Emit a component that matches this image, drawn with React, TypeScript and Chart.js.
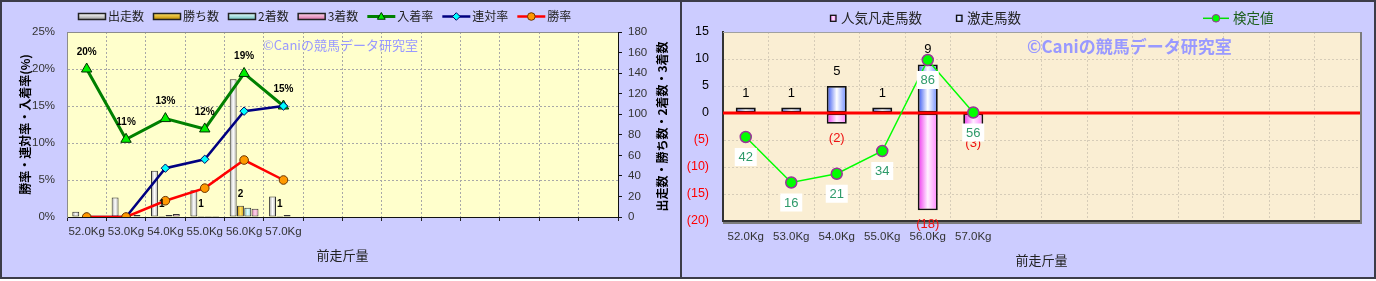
import React, { useEffect, useRef } from "react";
import { Chart, registerables } from "chart.js";

Chart.register(...registerables);

// ---------- data ----------
const categories = ["52.0Kg", "53.0Kg", "54.0Kg", "55.0Kg", "56.0Kg", "57.0Kg", "", "", "", "", "", "", "", ""];

// left chart (counts on right axis, rates on left axis)
const runs = [5, 19, 45, 26, 134, 20];
const wins = [0, 0, 1, 1, 11, 1];
const seconds = [0, 0, 2, 1, 9, 2];
const thirds = [1, 2, 3, 1, 8, 0];
const winLabels = ["", "", "1", "1", "2", "1"];
const placeRate = [20, 10.5, 13.3, 11.9, 19.4, 15];
const quinellaRate = [0, 0, 6.6, 7.8, 14.3, 15];
const winRate = [0, 0, 2.2, 3.9, 7.7, 5];

// right chart
const surgeCounts = [1, 1, 5, 1, 9, 0]; // 激走馬数
const flopCounts = [0, 0, -2, 0, -18, -3]; // 人気凡走馬数
const testValues = [42, 16, 21, 34, 86, 56]; // 検定値

const WATERMARK = "©Caniの競馬データ研究室";

// ---------- styles ----------
const FONT_LAT = '"Liberation Sans", "Noto Sans CJK JP", sans-serif';
const FONT_JP = '"Noto Sans CJK JP", "Liberation Sans", sans-serif';

type Stops = string[];

function hGrad(chart: any, x0: number, x1: number, stops: Stops) {
  const g = chart.ctx.createLinearGradient(x0, 0, x1, 0);
  g.addColorStop(0, stops[0]);
  g.addColorStop(0.5, stops[1]);
  g.addColorStop(1, stops[2]);
  return g;
}

function barFill(stops: Stops, slotIndex: number, slotCount: number, catPct: number, barPct: number) {
  return (c: any) => {
    const chart = c.chart;
    const xs = chart.scales && chart.scales.x;
    if (!xs || c.type !== "data" || !(xs.width > 0)) return stops[1];
    const cw = xs.width / categories.length;
    const center = xs.getPixelForValue(c.dataIndex);
    const group = cw * catPct;
    const slot = group / slotCount;
    const bw = slot * barPct;
    const bc = center - group / 2 + slot * (slotIndex + 0.5);
    return hGrad(chart, bc - bw / 2, bc + bw / 2, stops);
  };
}

function drawMarker(ctx: CanvasRenderingContext2D, shape: string, x: number, y: number, r: number, fill: string, stroke: string, lw: number) {
  ctx.beginPath();
  if (shape === "triangle") {
    ctx.moveTo(x, y - r);
    ctx.lineTo(x + r * 0.866, y + r / 2);
    ctx.lineTo(x - r * 0.866, y + r / 2);
    ctx.closePath();
  } else if (shape === "diamond") {
    ctx.moveTo(x, y - r);
    ctx.lineTo(x + r, y);
    ctx.lineTo(x, y + r);
    ctx.lineTo(x - r, y);
    ctx.closePath();
  } else {
    ctx.arc(x, y, r, 0, Math.PI * 2);
  }
  ctx.fillStyle = fill;
  ctx.fill();
  ctx.lineWidth = lw;
  ctx.strokeStyle = stroke;
  ctx.stroke();
}

type LegendItem = {
  label: string;
  kind: "bar" | "line" | "square";
  stops?: Stops;
  line?: string;
  lineWidth?: number;
  marker?: string;
  fill?: string;
  stroke?: string;
  x?: number;
  textColor?: string;
};

function legendPlugin(id: string, items: LegendItem[], startX: number, y: number, font: string, iconW: number, gap: number, spacing: number) {
  return {
    id,
    afterDraw(chart: any) {
      const ctx: CanvasRenderingContext2D = chart.ctx;
      ctx.save();
      ctx.font = font;
      ctx.textBaseline = "middle";
      ctx.textAlign = "left";
      let x = startX;
      items.forEach((it) => {
        if (it.x != null) x = it.x;
        let w = iconW;
        if (it.kind === "bar") {
          const g = ctx.createLinearGradient(0, y - 3, 0, y + 3);
          g.addColorStop(0, it.stops![1]);
          g.addColorStop(1, it.stops![0]);
          ctx.fillStyle = g;
          ctx.fillRect(x + 0.5, y - 3, iconW - 1, 6);
          ctx.lineWidth = 1.5;
          ctx.strokeStyle = "#222";
          ctx.strokeRect(x + 0.5, y - 3, iconW - 1, 6);
        } else if (it.kind === "square") {
          w = 7;
          ctx.fillStyle = hGrad(chart, x, x + 6, it.stops!);
          ctx.fillRect(x + 0.5, y - 3, 5.5, 6);
          ctx.lineWidth = 1.3;
          ctx.strokeStyle = "#111";
          ctx.strokeRect(x + 0.5, y - 3, 5.5, 6);
        } else {
          ctx.beginPath();
          ctx.moveTo(x, y);
          ctx.lineTo(x + iconW, y);
          ctx.lineWidth = it.lineWidth || 2;
          ctx.strokeStyle = it.line!;
          ctx.stroke();
          drawMarker(ctx, it.marker!, x + iconW / 2, y + (it.marker === "triangle" ? 0.5 : 0), it.marker === "triangle" ? 4.5 : 3.8, it.fill!, it.stroke!, 1);
        }
        ctx.fillStyle = it.textColor || "#222";
        ctx.fillText(it.label, x + w + gap, y);
        x += w + gap + ctx.measureText(it.label).width + spacing;
      });
      ctx.restore();
    },
  };
}

// ---------- left chart ----------
const L_CAT = 0.74;
const L_BAR = 0.95;
const leftBars = [
  { label: "出走数", data: runs, stops: ["#9C9C9C", "#FFFFFF", "#B0B0B0"] },
  { label: "勝ち数", data: wins, stops: ["#C08C00", "#FFE066", "#D4A000"] },
  { label: "2着数", data: seconds, stops: ["#6DBDBD", "#E6FFFF", "#86D2D2"] },
  { label: "3着数", data: thirds, stops: ["#D870A8", "#FFD6EC", "#E68CC0"] },
];
const leftLines = [
  { label: "入着率", data: placeRate, color: "#008000", width: 3, marker: "triangle", pointStyle: "triangle", radius: 6, fill: "#00F000", stroke: "#003000", order: 3 },
  { label: "連対率", data: quinellaRate, color: "#000080", width: 2.5, marker: "diamond", pointStyle: "rectRot", radius: 4.2, fill: "#00FFFF", stroke: "#000060", order: 2 },
  { label: "勝率", data: winRate, color: "#FF0000", width: 2.5, marker: "circle", pointStyle: "circle", radius: 4.3, fill: "#FF9900", stroke: "#6A3500", order: 1 },
];

function LeftChart() {
  const ref = useRef<HTMLCanvasElement>(null);
  useEffect(() => {
    const bg = {
      id: "leftBg",
      beforeDraw(chart: any) {
        const { ctx, chartArea: a } = chart;
        ctx.save();
        ctx.fillStyle = "#FFFFCC";
        ctx.fillRect(a.left, a.top, a.right - a.left, a.bottom - a.top);
        ctx.restore();
      },
      beforeDatasetsDraw(chart: any) {
        const { ctx, chartArea: a } = chart;
        ctx.save();
        ctx.strokeStyle = "#8C8C8C";
        ctx.lineWidth = 1;
        ctx.beginPath();
        ctx.moveTo(a.left, a.top + 0.5);
        ctx.lineTo(a.right, a.top + 0.5);
        ctx.stroke();
        ctx.font = `13px ${FONT_JP}`;
        ctx.fillStyle = "#9999FF";
        ctx.textBaseline = "middle";
        ctx.fillText(WATERMARK, a.left + 196, a.top + 13);
        ctx.restore();
      },
    };
    const labels = {
      id: "leftLabels",
      afterDatasetsDraw(chart: any) {
        const ctx = chart.ctx;
        ctx.save();
        ctx.font = `bold 10px ${FONT_LAT}`;
        ctx.fillStyle = "#000";
        ctx.textAlign = "center";
        ctx.textBaseline = "middle";
        chart.getDatasetMeta(4).data.forEach((pt: any, i: number) => {
          ctx.fillText(Math.round(placeRate[i]) + "%", pt.x, pt.y - 17);
        });
        chart.getDatasetMeta(1).data.forEach((el: any, i: number) => {
          if (winLabels[i]) ctx.fillText(winLabels[i], el.x, el.y - 11.5);
        });
        // right axis title (reads bottom to top)
        const a = chart.chartArea;
        const y1 = chart.scales.y1;
        ctx.translate(y1.right - 18, (a.top + a.bottom) / 2 + 2);
        ctx.rotate(-Math.PI / 2);
        ctx.font = `bold 12px ${FONT_JP}`;
        ctx.fillText("出走数・勝ち数・2着数・3着数", 0, 0);
        ctx.restore();
      },
    };
    const legendItems: LegendItem[] = [
      ...leftBars.map((b) => ({ label: b.label, kind: "bar" as const, stops: b.stops })),
      ...leftLines.map((l) => ({ label: l.label, kind: "line" as const, line: l.color, lineWidth: l.width, marker: l.marker, fill: l.fill, stroke: l.stroke })),
    ];
    const legend = legendPlugin("leftLegend", legendItems, 76, 14.5, `12px ${FONT_JP}`, 28, 2, 9);

    const tickFont = { family: FONT_LAT, size: 11.5 };
    const chart = new Chart(ref.current as HTMLCanvasElement, {
      type: "bar",
      data: {
        labels: categories,
        datasets: [
          ...leftBars.map((b, i) => ({
            type: "bar" as const,
            label: b.label,
            data: b.data,
            yAxisID: "y1",
            backgroundColor: barFill(b.stops, i, leftBars.length, L_CAT, L_BAR),
            borderColor: "#333",
            borderWidth: 1,
            borderSkipped: false,
            categoryPercentage: L_CAT,
            barPercentage: L_BAR,
            order: 10,
          })),
          ...leftLines.map((l) => ({
            type: "line" as const,
            label: l.label,
            data: l.data,
            yAxisID: "y",
            borderColor: l.color,
            borderWidth: l.width,
            pointStyle: l.pointStyle,
            pointRadius: l.radius,
            pointBackgroundColor: l.fill,
            pointBorderColor: l.stroke,
            pointBorderWidth: 1,
            fill: false,
            tension: 0,
            order: l.order,
          })),
        ],
      } as any,
      options: {
        responsive: false,
        animation: false,
        events: [],
        layout: { padding: { top: 30, left: 0, right: 0, bottom: 0 } },
        plugins: { legend: { display: false }, tooltip: { enabled: false } },
        scales: {
          x: {
            offset: true,
            grid: { offset: true, color: "#A8A8A8", lineWidth: 1, drawTicks: true, tickLength: 4, tickColor: "#222", tickBorderDash: [] },
            border: { display: true, color: "#111", width: 1, dash: [2, 2] },
            ticks: { color: "#333", font: tickFont, padding: 4, autoSkip: false, maxRotation: 0 },
            title: { display: true, text: "前走斤量", color: "#222", font: { family: FONT_JP, size: 13 }, padding: { top: 0, bottom: 14 } },
            afterFit: (s: any) => { s.height = 60; },
          },
          y: {
            position: "left",
            min: 0,
            max: 25,
            ticks: { stepSize: 5, callback: (v: any) => v + "%", padding: 12, color: "#333", font: tickFont },
            grid: { color: "#A8A8A8", drawTicks: false },
            border: { color: "#8C8C8C", width: 1, dash: [2, 2] },
            title: { display: true, text: "勝率・連対率・入着率(%)", color: "#000", font: { family: FONT_JP, size: 12, weight: "bold" }, padding: { top: 16, bottom: 0 } },
            afterFit: (s: any) => { s.width = 65; },
          },
          y1: {
            position: "right",
            min: 0,
            max: 180,
            ticks: { stepSize: 20, padding: 6, color: "#333", font: tickFont },
            grid: { drawOnChartArea: false, drawTicks: true, tickLength: 4, tickColor: "#111", color: "#111" },
            border: { color: "#111", width: 1 },
            afterFit: (s: any) => { s.width = 62; },
          },
        },
      } as any,
      plugins: [bg, labels, legend],
    });
    return () => chart.destroy();
  }, []);
  return <canvas ref={ref} width={678} height={275} style={{ display: "block", width: 678, height: 275 }} />;
}

// ---------- right chart ----------
const R_CAT = 0.88;
const R_BAR = 0.5;
const blueStops = ["#2F4FF0", "#FFFFFF", "#6A88FF"];
const pinkStops = ["#EE30EE", "#FFF0FF", "#FF80FF"];

function RightChart() {
  const ref = useRef<HTMLCanvasElement>(null);
  useEffect(() => {
    const bg = {
      id: "rightBg",
      beforeDraw(chart: any) {
        const { ctx, chartArea: a } = chart;
        ctx.save();
        ctx.fillStyle = "#FAEED3";
        ctx.fillRect(a.left, a.top, a.right - a.left, a.bottom - a.top);
        ctx.restore();
      },
      beforeDatasetsDraw(chart: any) {
        const { ctx, chartArea: a } = chart;
        ctx.save();
        ctx.strokeStyle = "#A0A0A0";
        ctx.lineWidth = 1;
        ctx.beginPath();
        ctx.moveTo(a.left, a.top + 0.5);
        ctx.lineTo(a.right, a.top + 0.5);
        ctx.stroke();
        ctx.strokeStyle = "#7C7C7C";
        ctx.lineWidth = 2;
        ctx.beginPath();
        ctx.moveTo(a.right + 1, a.top);
        ctx.lineTo(a.right + 1, a.bottom + 2);
        ctx.lineTo(a.left, a.bottom + 2);
        ctx.stroke();
        ctx.font = `bold 17px ${FONT_JP}`;
        ctx.fillStyle = "#9999FF";
        ctx.textBaseline = "middle";
        ctx.fillText(WATERMARK, a.left + 304, a.top + 15);
        ctx.restore();
      },
      beforeDatasetDraw(chart: any, args: any) {
        if (args.index !== 0) return;
        const { ctx, chartArea: a } = chart;
        const y0 = chart.scales.y.getPixelForValue(0);
        ctx.save();
        ctx.strokeStyle = "#FF0000";
        ctx.lineWidth = 3;
        ctx.beginPath();
        ctx.moveTo(a.left, y0);
        ctx.lineTo(a.right, y0);
        ctx.stroke();
        ctx.restore();
      },
    };
    const labels = {
      id: "rightLabels",
      afterDatasetsDraw(chart: any) {
        const ctx = chart.ctx;
        ctx.save();
        ctx.textAlign = "center";
        ctx.textBaseline = "middle";
        ctx.font = `13px ${FONT_LAT}`;
        chart.getDatasetMeta(2).data.forEach((el: any, i: number) => {
          if (surgeCounts[i] > 0) {
            ctx.fillStyle = "#000";
            ctx.fillText(String(surgeCounts[i]), el.x, el.y - 14.5);
          }
        });
        chart.getDatasetMeta(1).data.forEach((el: any, i: number) => {
          if (flopCounts[i] < 0) {
            ctx.fillStyle = "#EE1111";
            ctx.fillText(`(${-flopCounts[i]})`, el.x, el.y + 14.5);
          }
        });
        chart.getDatasetMeta(0).data.forEach((pt: any, i: number) => {
          const cy = pt.y + 20;
          ctx.fillStyle = "#FFFFFF";
          ctx.fillRect(pt.x - 11, cy - 9, 22, 18);
          ctx.fillStyle = "#2E9A6A";
          ctx.fillText(String(testValues[i]), pt.x, cy + 0.5);
        });
        ctx.restore();
      },
    };
    const legendItems: LegendItem[] = [
      { label: "人気凡走馬数", kind: "square", stops: pinkStops, x: 148 },
      { label: "激走馬数", kind: "square", stops: ["#6F88FF", "#FFFFFF", "#6F88FF"], x: 274 },
      { label: "検定値", kind: "line", line: "#00E000", lineWidth: 1.5, marker: "circle", fill: "#00FF00", stroke: "#993399", x: 521, textColor: "#1B5E1B" },
    ];
    const legend = legendPlugin("rightLegend", legendItems, 148, 16.3, `13.5px ${FONT_JP}`, 26, 4, 10);

    const tickFont = { family: FONT_LAT, size: 11.5 };
    const chart = new Chart(ref.current as HTMLCanvasElement, {
      type: "bar",
      data: {
        labels: categories,
        datasets: [
          {
            type: "line",
            label: "検定値",
            data: testValues,
            yAxisID: "y2",
            borderColor: "#00FF00",
            borderWidth: 1.5,
            pointRadius: 5.5,
            pointBackgroundColor: "#00FF00",
            pointBorderColor: "#993399",
            pointBorderWidth: 1.5,
            fill: false,
            tension: 0,
            order: 0,
          },
          {
            type: "bar",
            label: "人気凡走馬数",
            data: flopCounts,
            yAxisID: "y",
            backgroundColor: barFill(pinkStops, 0, 1, R_CAT, R_BAR),
            borderColor: "#111",
            borderWidth: 1.8,
            borderSkipped: false,
            grouped: false,
            categoryPercentage: R_CAT,
            barPercentage: R_BAR,
            order: 1,
          },
          {
            type: "bar",
            label: "激走馬数",
            data: surgeCounts,
            yAxisID: "y",
            backgroundColor: barFill(blueStops, 0, 1, R_CAT, R_BAR),
            borderColor: "#111",
            borderWidth: 1.8,
            borderSkipped: false,
            grouped: false,
            categoryPercentage: R_CAT,
            barPercentage: R_BAR,
            order: 2,
          },
        ],
      } as any,
      options: {
        responsive: false,
        animation: false,
        events: [],
        layout: { padding: { top: 30, left: 0, right: 14, bottom: 0 } },
        plugins: { legend: { display: false }, tooltip: { enabled: false } },
        scales: {
          x: {
            offset: true,
            grid: { offset: true, color: "#D6CCB8", drawTicks: false },
            border: { color: "#333", width: 2, dash: [2, 2] },
            ticks: { color: "#333", font: tickFont, padding: 9, autoSkip: false, maxRotation: 0 },
            title: { display: true, text: "前走斤量", color: "#222", font: { family: FONT_JP, size: 13 }, padding: { top: 0, bottom: 9 } },
            afterFit: (s: any) => { s.height = 56; },
          },
          y: {
            position: "left",
            min: -20,
            max: 15,
            ticks: {
              stepSize: 5,
              callback: (v: any) => (v < 0 ? `(${-v})` : String(v)),
              color: (c: any) => (c.tick && c.tick.value < 0 ? "#FF0000" : "#000"),
              padding: 14,
              font: { family: FONT_LAT, size: 12.5 },
            },
            grid: { color: "#D6CCB8", drawTicks: false },
            border: { color: "#333", width: 2, dash: [2, 2] },
            afterFit: (s: any) => { s.width = 41; },
          },
          y2: { display: false, min: -6, max: 102 },
        },
      } as any,
      plugins: [bg, labels, legend],
    });
    return () => chart.destroy();
  }, []);
  return <canvas ref={ref} width={692} height={275} style={{ display: "block", width: 692, height: 275 }} />;
}

export default function App() {
  const border = "2px solid #3C3C48";
  return (
    <div style={{ position: "relative", width: 1376, height: 281, background: "#FFFFFF" }}>
      <style>{"body{margin:0;}"}</style>
      <div
        style={{
          position: "absolute",
          left: 0,
          top: 0,
          width: 680,
          height: 279,
          boxSizing: "border-box",
          background: "#CCCCFF",
          borderLeft: border,
          borderTop: border,
          borderBottom: border,
        }}
      >
        <LeftChart />
      </div>
      <div
        style={{
          position: "absolute",
          left: 680,
          top: 0,
          width: 696,
          height: 279,
          boxSizing: "border-box",
          background: "#CCCCFF",
          border: border,
        }}
      >
        <RightChart />
      </div>
    </div>
  );
}
